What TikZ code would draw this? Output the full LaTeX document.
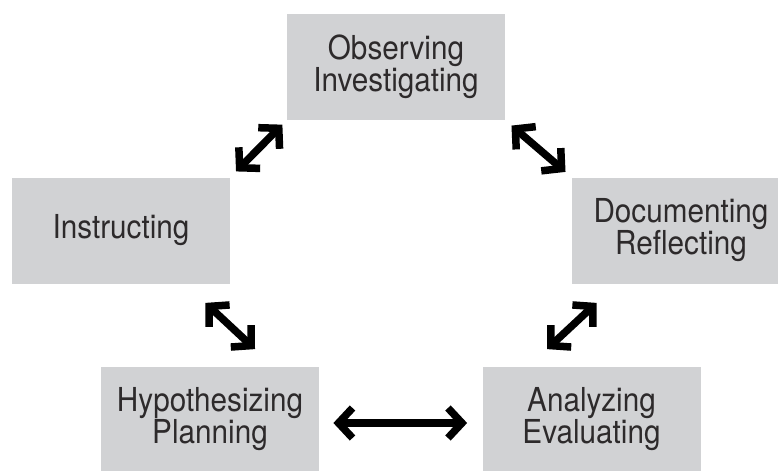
\documentclass[tikz,border=0pt]{standalone}
\usepackage{fontspec}
\setmainfont{TeX Gyre Heros}[FakeStretch=0.9]
\usetikzlibrary{arrows.meta}
\definecolor{boxgray}{RGB}{209,210,212}
\definecolor{textgray}{RGB}{45,42,43}

\begin{document}
\begin{tikzpicture}[x=0.5pt,y=-0.5pt]
	\tikzset{stage/.style={fill=boxgray,text=textgray,align=center,minimum width=109pt,minimum height=53pt,inner sep=0pt,font=\fontsize{16.5}{16}\selectfont}}
	\tikzset{link/.style={line width=3.75pt,{Straight Barb[length=7pt,width=15pt,sharp]}-{Straight Barb[length=7pt,width=15pt,sharp]}}}
	
	% Page size
	\useasboundingbox (0,0) rectangle (778,471);
	
	% Stages of the cycle
	\node[stage] (obs) at (396,67) {Observing\\Investigating};
	\node[stage] (ins) at (121,230.5) {Instructing};
	\node[stage] (doc) at (681,230.5) {Documenting\\Reflecting};
	\node[stage] (hyp) at (210,419.5) {Hypothesizing\\Planning};
	\node[stage] (ana) at (591.5,419.5) {Analyzing\\Evaluating};
	
	% Double arrows between the stages
	\draw[link,shorten <=4pt,shorten >=3pt] (ins.north east) -- (obs.south west);
	\draw[link,shorten <=4pt,shorten >=4pt] (obs.south east) -- (doc.north west);
	\draw[link] ([shift={(-25,19)}]ins.south east) -- ([shift={(45,-17)}]hyp.north);
	\draw[link] ([shift={(-44.5,-17)}]ana.north) -- ([shift={(25,19)}]doc.south west);
	\draw[link,shorten <=7pt,shorten >=7.5pt] ([yshift=-1.75pt]hyp.east) -- ([yshift=-1.75pt]ana.west);
	
\end{tikzpicture}
\end{document}
